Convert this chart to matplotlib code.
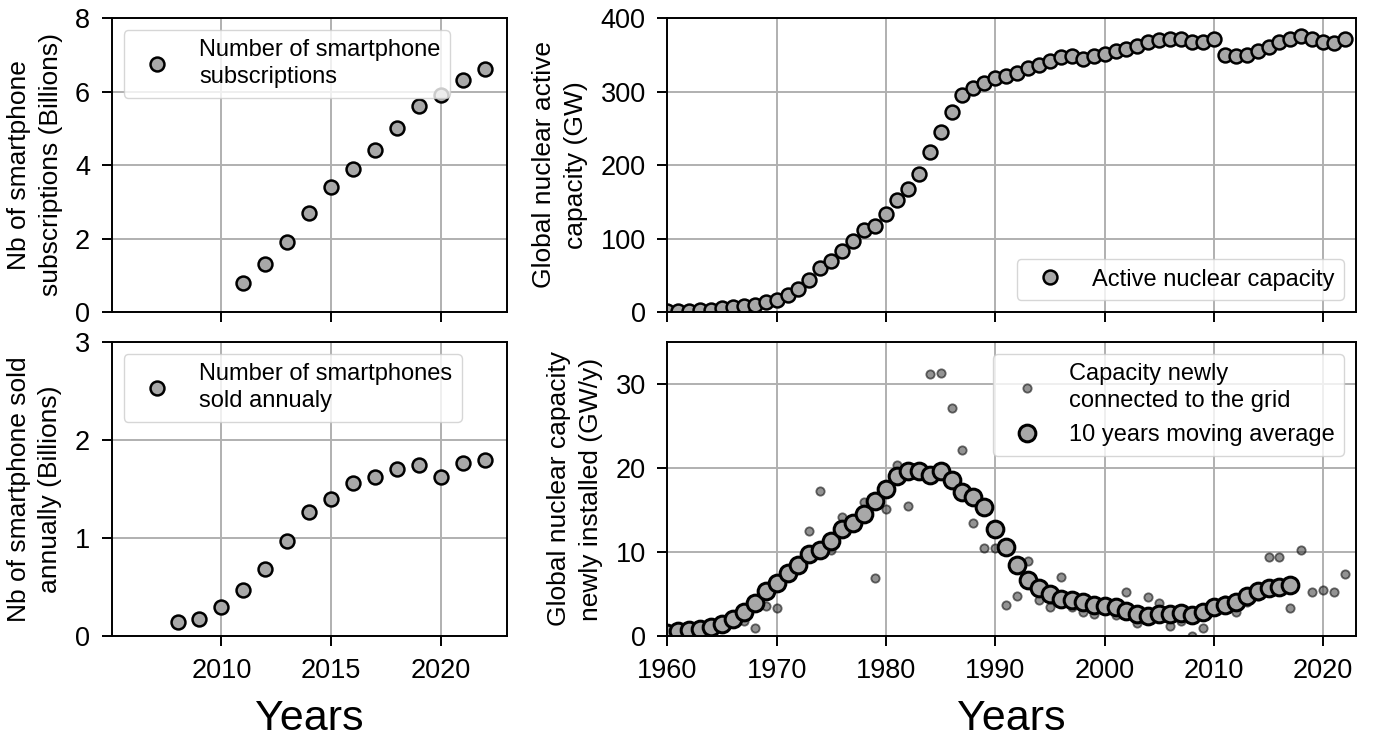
import numpy as np
import matplotlib
matplotlib.use("Agg")
import matplotlib.pyplot as plt

plt.rcParams['font.family'] = ['Liberation Sans', 'DejaVu Sans']

# ---------------- data ----------------
subs_years = list(range(2011, 2023))
subs_values = [0.8, 1.3, 1.9, 2.7, 3.4, 3.9, 4.4, 5.0, 5.6, 5.9, 6.3, 6.6]

sold_years = list(range(2008, 2023))
sold_values = [0.14, 0.17, 0.30, 0.47, 0.68, 0.97, 1.27, 1.40, 1.56, 1.62,
               1.70, 1.74, 1.62, 1.77, 1.80]

cap_years = list(range(1960, 2023))
cap_values = [1, 1.5, 2, 2.5, 3, 5, 7, 8.5, 10, 13,
              17, 23, 31, 43, 60, 70, 83, 97, 111, 117,
              133, 153, 168, 188, 218, 245, 272, 295, 305, 312,
              318, 321, 325, 332, 336, 342, 347, 348, 344, 348,
              351, 355, 358, 362, 367, 370, 371, 371, 368, 367,
              372, 350, 348, 349, 355, 361, 368, 371, 376, 371,
              368, 366, 371]

new_years = list(range(1960, 2023))
new_values = [0.5, 0.6, 0.8, 0.7, 1.2, 1.5, 2.2, 1.8, 0.9, 3.6,
              3.3, 7.0, 8.5, 12.5, 17.3, 10.2, 14.2, 13.5, 15.9, 6.9,
              15.1, 20.4, 15.5, 19.3, 31.2, 31.3, 27.2, 22.1, 13.5, 10.5,
              10.5, 3.7, 4.8, 8.9, 4.3, 3.5, 7.0, 3.4, 2.9, 2.6,
              3.3, 2.5, 5.2, 1.5, 4.7, 3.9, 1.2, 1.8, 0.0, 1.0,
              3.5, 4.3, 2.9, 4.0, 4.8, 9.4, 9.4, 3.3, 10.2, 5.2,
              5.5, 5.2, 7.4]

ma_years = list(range(1960, 2018))
ma_values = [0.4, 0.6, 0.7, 0.8, 1.1, 1.4, 2.0, 2.8, 3.9, 5.4,
             6.3, 7.5, 8.4, 9.8, 10.2, 11.3, 12.7, 13.5, 14.5, 16.1,
             17.5, 19.0, 19.6, 19.7, 19.2, 19.6, 18.6, 17.2, 16.6, 15.3,
             12.7, 10.6, 8.4, 6.7, 5.7, 5.0, 4.4, 4.3, 4.0, 3.7,
             3.6, 3.5, 3.0, 2.6, 2.4, 2.6, 2.6, 2.7, 2.5, 2.9,
             3.4, 3.7, 4.0, 4.8, 5.3, 5.7, 5.8, 6.1]

left_xticks = [2010, 2015, 2020]
right_xticks = [1960, 1970, 1980, 1990, 2000, 2010, 2020]

# ---------------- figure ----------------
W, H = 1374, 738
fig = plt.figure(figsize=(W / 100, H / 100), dpi=100)

def ax_at(x0, y0, x1, y1):
    return fig.add_axes([x0 / W, 1 - y1 / H, (x1 - x0) / W, (y1 - y0) / H])

ax_tl = ax_at(111.7, 18, 506.7, 312)
ax_bl = ax_at(111.7, 342, 506.7, 636)
ax_tr = ax_at(667.3, 18, 1356, 312)
ax_br = ax_at(667.3, 342, 1356, 636)

TICK_FS = 19.5
LAB_FS = 19
LEG_FS = 17
XLAB_FS = 31
FACE = '#a8a8a8'

for ax in (ax_tl, ax_bl, ax_tr, ax_br):
    ax.grid(True, color='#b0b0b0', linewidth=1.4)
    ax.set_axisbelow(True)
    for s in ax.spines.values():
        s.set_linewidth(1.4)
    ax.tick_params(labelsize=TICK_FS, length=7.5, width=1.4, pad=8,
                   direction='out')

big = dict(linestyle='none', marker='o', markerfacecolor=FACE,
           markeredgecolor='black')

def ylab(ax, text):
    ax.set_ylabel(text, fontsize=LAB_FS, linespacing=1.4, labelpad=9)

def leg(ax, loc):
    lg = ax.legend(loc=loc, fontsize=LEG_FS)
    for t in lg.get_texts():
        t.set_linespacing(1.3)
    return lg

# top-left
ax_tl.plot(subs_years, subs_values, markersize=10, markeredgewidth=1.8,
           label='Number of smartphone\nsubscriptions', **big)
ax_tl.set_xlim(2005, 2023)
ax_tl.set_ylim(0, 8)
ax_tl.set_yticks([0, 2, 4, 6, 8])
ax_tl.set_xticks(left_xticks)
ax_tl.set_xticklabels([])
ylab(ax_tl, 'Nb of smartphone\nsubscriptions (Billions)')
leg(ax_tl, 'upper left')

# bottom-left
ax_bl.plot(sold_years, sold_values, markersize=10, markeredgewidth=1.8,
           label='Number of smartphones\nsold annualy', **big)
ax_bl.set_xlim(2005, 2023)
ax_bl.set_ylim(0, 3)
ax_bl.set_yticks([0, 1, 2, 3])
ax_bl.set_xticks(left_xticks)
ylab(ax_bl, 'Nb of smartphone sold\nannually (Billions)')
ax_bl.set_xlabel('Years', fontsize=XLAB_FS, labelpad=11)
leg(ax_bl, 'upper left')

# top-right
ax_tr.plot(cap_years, cap_values, markersize=10, markeredgewidth=1.8,
           label='Active nuclear capacity', **big)
ax_tr.set_xlim(1960, 2023)
ax_tr.set_ylim(0, 400)
ax_tr.set_yticks([0, 100, 200, 300, 400])
ax_tr.set_xticks(right_xticks)
ax_tr.set_xticklabels([])
ylab(ax_tr, 'Global nuclear active\ncapacity (GW)')
leg(ax_tr, 'lower right')

# bottom-right
ax_br.plot(new_years, new_values, linestyle='none', marker='o', markersize=6,
           markerfacecolor='#3a3a3a', markeredgecolor='black',
           markeredgewidth=1.3, alpha=0.55,
           label='Capacity newly\nconnected to the grid')
ax_br.plot(ma_years, ma_values, markersize=12, markeredgewidth=2.2,
           label='10 years moving average', **big)
ax_br.set_xlim(1960, 2023)
ax_br.set_ylim(0, 35)
ax_br.set_yticks([0, 10, 20, 30])
ax_br.set_xticks(right_xticks)
ylab(ax_br, 'Global nuclear capacity\nnewly installed (GW/y)')
ax_br.set_xlabel('Years', fontsize=XLAB_FS, labelpad=11)
leg(ax_br, 'upper right')

fig.savefig('out.png', dpi=100)
